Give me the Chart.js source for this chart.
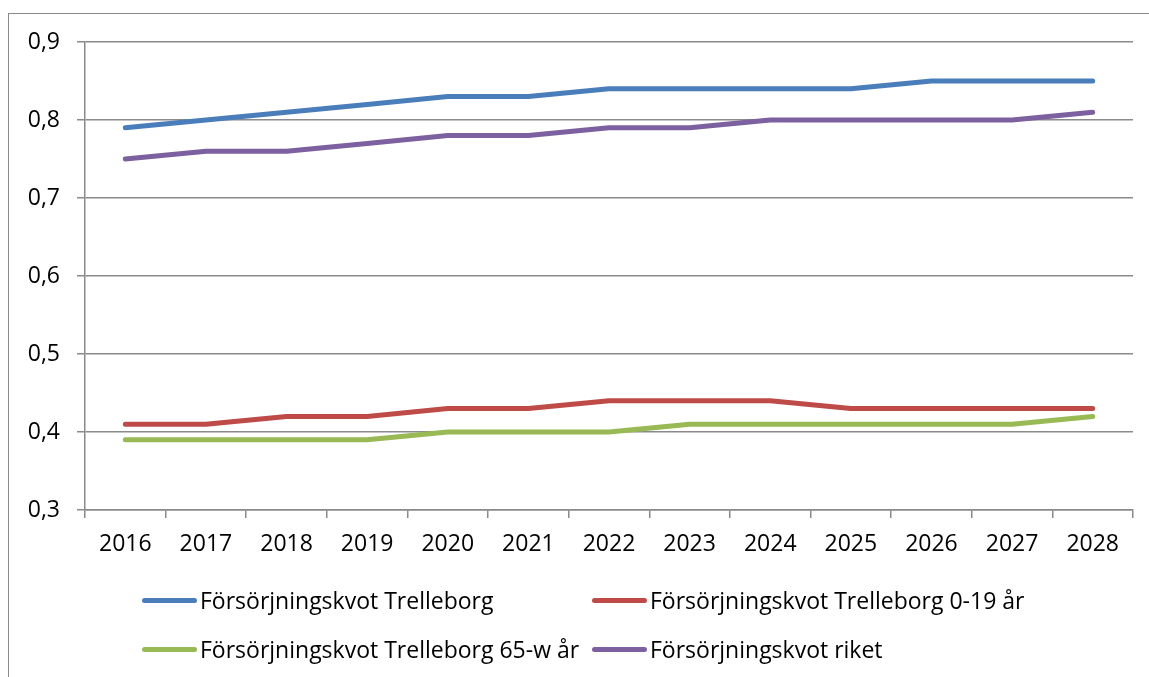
<!DOCTYPE html>
<html>
<head>
<meta charset="utf-8">
<script src="https://cdn.jsdelivr.net/npm/chart.js@4/dist/chart.umd.min.js"></script>
<style>
  html, body { margin: 0; padding: 0; background: #fff; overflow: hidden; }
  #wrap { position: relative; width: 1149px; height: 677px; }
  #frame { position: absolute; left: 8px; top: 13px; width: 1200px; height: 700px; border: 1.5px solid #8a8a8a; box-sizing: border-box; }
  #chartBox { position: absolute; left: 0; top: 0; width: 1149px; height: 677px; }
  .leg { position: absolute; font-family: "Open Sans", sans-serif; font-size: 23px; color: #000; white-space: nowrap; display: flex; align-items: center; }
  .leg .sw { display: inline-block; width: 55px; height: 5px; border-radius: 3px; margin-right: 3px; }
</style>
</head>
<body>
<div id="wrap">
  <div id="frame"></div>
  <div id="chartBox"><canvas id="chart"></canvas></div>
  <div id="legend"></div>
</div>
<script>
// Försörjningskvot 2016-2028
const years = ['2016', '2017', '2018', '2019', '2020', '2021', '2022', '2023', '2024', '2025', '2026', '2027', '2028'];

const trelleborg     = [0.79, 0.80, 0.81, 0.82, 0.83, 0.83, 0.84, 0.84, 0.84, 0.84, 0.85, 0.85, 0.85];
const trelleborgUnga = [0.41, 0.41, 0.42, 0.42, 0.43, 0.43, 0.44, 0.44, 0.44, 0.43, 0.43, 0.43, 0.43];
const trelleborgAldre = [0.39, 0.39, 0.39, 0.39, 0.40, 0.40, 0.40, 0.41, 0.41, 0.41, 0.41, 0.41, 0.42];
const riket          = [0.75, 0.76, 0.76, 0.77, 0.78, 0.78, 0.79, 0.79, 0.80, 0.80, 0.80, 0.80, 0.81];

const seriesNames = [
  'Försörjningskvot Trelleborg',
  'Försörjningskvot Trelleborg 0-19 år',
  'Försörjningskvot Trelleborg 65-w år',
  'Försörjningskvot riket'
];
const seriesColors = ['#4A7EBB', '#BE4B48', '#98B954', '#7D60A0'];

const yTicks = { min: 0.3, max: 0.9, step: 0.1 };

const gridColor = '#8a8a8a';
const font = { family: '"Open Sans", sans-serif', size: 23 };

function lineSet(label, data, color) {
  return {
    label,
    data,
    borderColor: color,
    backgroundColor: color,
    borderWidth: 5,
    pointRadius: 0,
    pointHoverRadius: 0,
    tension: 0,
    fill: false,
    borderCapStyle: 'round',
    borderJoinStyle: 'round',
  };
}

const chart = new Chart(document.getElementById('chart'), {
  type: 'line',
  data: {
    labels: years,
    datasets: [
      lineSet(seriesNames[0], trelleborg, seriesColors[0]),
      lineSet(seriesNames[1], trelleborgUnga, seriesColors[1]),
      lineSet(seriesNames[2], trelleborgAldre, seriesColors[2]),
      lineSet(seriesNames[3], riket, seriesColors[3]),
    ]
  },
  options: {
    responsive: true,
    maintainAspectRatio: false,
    animation: false,
    layout: { padding: { left: 0, right: 16, top: 42, bottom: 107 } },
    plugins: { legend: { display: false }, tooltip: { enabled: false } },
    scales: {
      x: {
        offset: true,
        grid: { drawOnChartArea: false, drawTicks: true, tickLength: 8, color: gridColor, lineWidth: 1.5, offset: true },
        border: { display: true, color: gridColor, width: 1.5 },
        ticks: { color: '#000', font, padding: 13, maxRotation: 0 },
        afterFit: s => { s.height = 60; }
      },
      y: {
        min: yTicks.min,
        max: yTicks.max,
        grid: { color: gridColor, lineWidth: 1.5, tickLength: 8, drawTicks: true },
        border: { display: true, color: gridColor, width: 1.5 },
        ticks: {
          stepSize: yTicks.step,
          color: '#000',
          font,
          padding: 17,
          callback: v => Number(v).toFixed(1).replace('.', ',')
        },
        afterFit: s => { s.width = 85; }
      }
    }
  }
});

// legend in two aligned columns, like the original
const legendPos = [
  { left: 142, top: 600 }, { left: 592, top: 600 },
  { left: 142, top: 649 }, { left: 592, top: 649 }
];
const legendEl = document.getElementById('legend');
seriesNames.forEach((name, i) => {
  const d = document.createElement('div');
  d.className = 'leg';
  d.style.left = legendPos[i].left + 'px';
  d.style.top = (legendPos[i].top - 15) + 'px';
  d.style.height = '30px';
  d.innerHTML = `<span class="sw" style="background:${seriesColors[i]}"></span><span>${name}</span>`;
  legendEl.appendChild(d);
});
</script>
</body>
</html>
